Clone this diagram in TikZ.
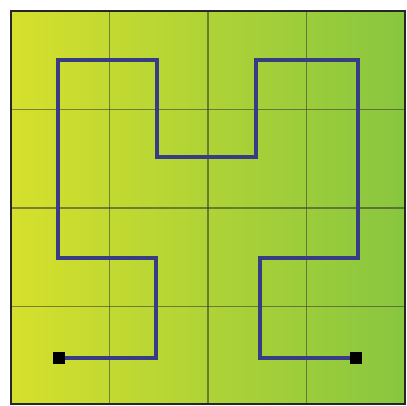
\documentclass[tikz,border=0pt]{standalone}
\definecolor{gleft}{RGB}{214,224,44}
\definecolor{gright}{RGB}{136,198,64}
\definecolor{curveblue}{RGB}{56,60,132}
\tikzset{
  gridline/.style={draw=black!80,opacity=0.55,line width=1.7pt},
  frameline/.style={draw=black!85,line width=2.6pt},
  curveline/.style={draw=curveblue,line width=4.2pt,line join=miter},
  endbox/.style={fill=black,minimum size=12.5pt,inner sep=0pt,draw=none}
}
\begin{document}
\begin{tikzpicture}[x=1pt,y=-1pt]
\useasboundingbox (0,0) rectangle (407,406);
\fill[left color=gleft,right color=gright] (11,11) rectangle (405,404);
% grid
\foreach \g in {109.5,208,306.5} {
  \draw[gridline] (\g,11) -- (\g,404);
  \draw[gridline] (11,\g) -- (405,\g);
}
\draw[frameline] (11,11) rectangle (405,404);
% curve coordinates
\coordinate (p1) at (59,358);
\coordinate (p2) at (156,358);
\coordinate (p3) at (156,258);
\coordinate (p4) at (58,258);
\coordinate (p5) at (58,60);
\coordinate (p6) at (157,60);
\coordinate (p7) at (157,157);
\coordinate (p8) at (256,157);
\coordinate (p9) at (256,60);
\coordinate (p10) at (358,60);
\coordinate (p11) at (358,258);
\coordinate (p12) at (260,258);
\coordinate (p13) at (260,358);
\coordinate (p14) at (356,358);
\draw[curveline] (p1) -- (p2) -- (p3) -- (p4) -- (p5) -- (p6) -- (p7) -- (p8) -- (p9) -- (p10) -- (p11) -- (p12) -- (p13) -- (p14);
\node[endbox] (s) at (p1) {};
\node[endbox] (e) at (p14) {};
\end{tikzpicture}
\end{document}
